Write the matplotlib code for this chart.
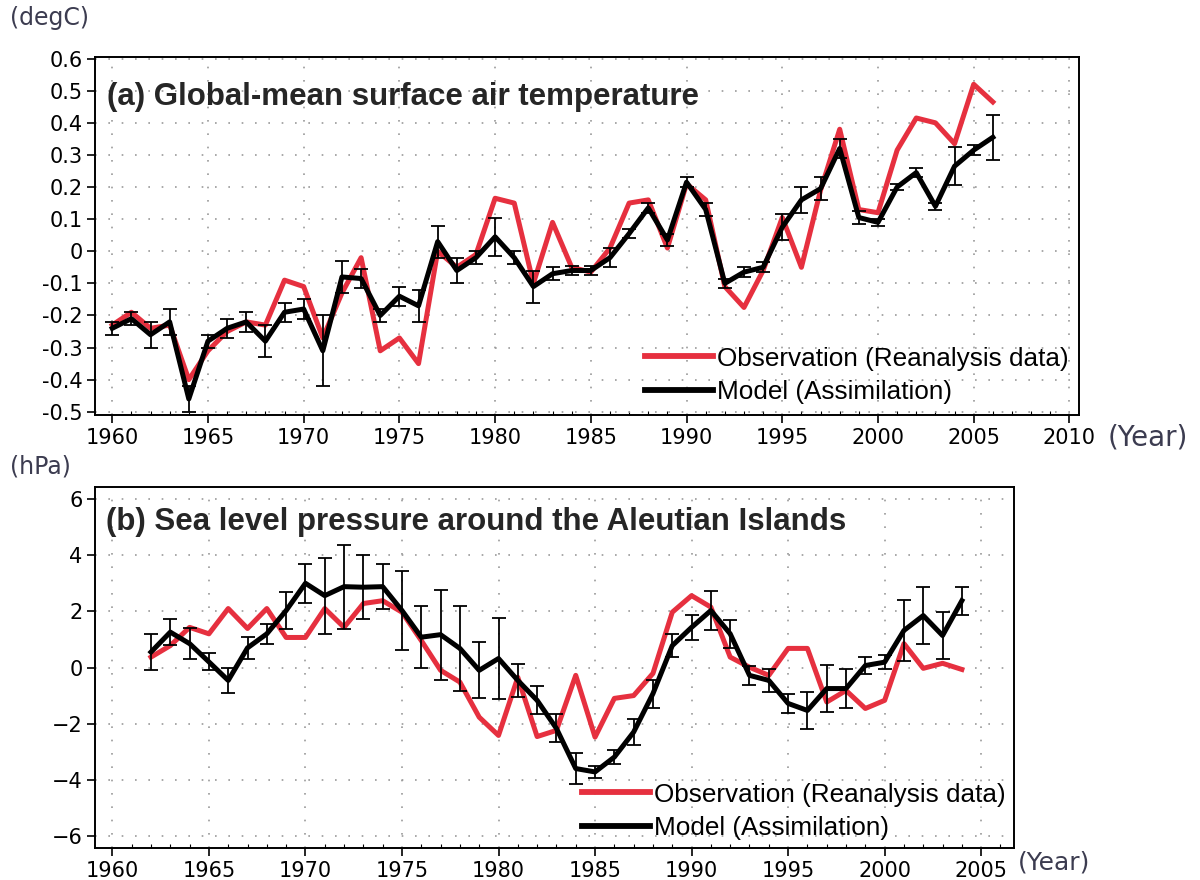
import matplotlib.pyplot as plt
import numpy as np
from matplotlib.lines import Line2D
from matplotlib.ticker import MultipleLocator, FixedLocator

# (a) global-mean surface air temperature anomaly [degC]
years_a = np.arange(1960, 2007)
obs_a = [-0.23, -0.19, -0.24, -0.23, -0.40, -0.31, -0.25, -0.22, -0.23, -0.09,
         -0.11, -0.27, -0.13, -0.02, -0.31, -0.27, -0.35, 0.00, -0.05, -0.01,
         0.165, 0.15, -0.10, 0.09, -0.05, -0.065, 0.01, 0.15, 0.16, 0.01,
         0.21, 0.16, -0.11, -0.175, -0.06, 0.105, -0.05, 0.19, 0.38, 0.13,
         0.12, 0.315, 0.415, 0.40, 0.335, 0.52, 0.465]
model_a = [-0.24, -0.21, -0.26, -0.22, -0.46, -0.28, -0.24, -0.22, -0.28, -0.19,
           -0.18, -0.31, -0.08, -0.085, -0.20, -0.14, -0.17, 0.03, -0.06, -0.02,
           0.045, -0.02, -0.11, -0.07, -0.06, -0.06, -0.02, 0.055, 0.135, 0.035,
           0.215, 0.13, -0.10, -0.065, -0.05, 0.075, 0.16, 0.195, 0.32, 0.105,
           0.09, 0.20, 0.245, 0.14, 0.265, 0.315, 0.355]
err_a = [0.02, 0.02, 0.04, 0.04, 0.04, 0.02, 0.03, 0.03, 0.05, 0.03,
         0.03, 0.11, 0.05, 0.03, 0.02, 0.03, 0.05, 0.05, 0.04, 0.02,
         0.06, 0.02, 0.05, 0.02, 0.015, 0.015, 0.03, 0.015, 0.015, 0.02,
         0.015, 0.02, 0.015, 0.015, 0.015, 0.04, 0.04, 0.035, 0.03, 0.02,
         0.01, 0.01, 0.015, 0.01, 0.06, 0.015, 0.07]

# (b) sea level pressure anomaly around the Aleutian Islands [hPa]
years_b = np.arange(1962, 2005)
obs_b = [0.37, 0.78, 1.43, 1.2, 2.1, 1.39, 2.1, 1.07, 1.07, 2.1,
         1.43, 2.28, 2.38, 1.97, 0.96, -0.1, -0.52, -1.77, -2.42, -0.35,
         -2.46, -2.24, -0.28, -2.48, -1.1, -1.0, -0.21, 1.97, 2.56, 2.15,
         0.37, 0.01, -0.28, 0.68, 0.68, -1.23, -0.82, -1.46, -1.17, 0.85,
         -0.03, 0.15, -0.07]
model_b = [0.55, 1.26, 0.85, 0.2, -0.46, 0.7, 1.2, 2.03, 3.0, 2.56,
           2.88, 2.86, 2.88, 2.03, 1.08, 1.17, 0.68, -0.1, 0.32, -0.46,
           -1.17, -2.17, -3.6, -3.72, -3.19, -2.3, -0.93, 0.78, 1.43, 2.03,
           1.2, -0.28, -0.46, -1.28, -1.53, -0.75, -0.75, 0.07, 0.19, 1.32,
           1.85, 1.14, 2.38]
err_b = [0.64, 0.45, 0.55, 0.3, 0.45, 0.4, 0.35, 0.65, 0.7, 1.35,
         1.5, 1.15, 0.8, 1.4, 1.1, 1.6, 1.5, 1.0, 1.45, 0.6,
         0.5, 0.5, 0.55, 0.2, 0.25, 0.45, 0.5, 0.4, 0.45, 0.7,
         0.5, 0.35, 0.4, 0.35, 0.65, 0.85, 0.7, 0.3, 0.25, 1.1,
         1.0, 0.85, 0.5]

RED = '#e6303f'
LABEL_COLOR = '#3c3c50'
plt.rcParams['font.family'] = 'DejaVu Sans'


def style_axes(ax):
    for sp in ax.spines.values():
        sp.set_linewidth(1.4)
    ax.tick_params(axis='both', which='major', direction='out', length=6, width=1.2,
                   labelsize=15, pad=3)
    ax.xaxis.set_minor_locator(MultipleLocator(1))
    ax.tick_params(axis='x', which='minor', direction='in', length=3, width=0.8, top=False)
    ax.grid(True, which='major', color='#9a9a9a', linestyle=(0, (1, 7)), linewidth=1.2)


def draw(ax, years, obs, model, err, title, title_y):
    ax.plot(years, obs, color=RED, lw=3.6, zorder=3)
    ax.errorbar(years, model, yerr=err, color='k', lw=3.6, elinewidth=1.3,
                capsize=5, capthick=1.3, zorder=4)
    ax.text(0.012, title_y, title, transform=ax.transAxes, ha='left', va='top',
            fontsize=22.5, fontweight='bold', color='#262626',
            family='Liberation Sans', zorder=5)


def add_legend(ax, anchor):
    handles = [Line2D([], [], color=RED, lw=4.2), Line2D([], [], color='k', lw=4.2)]
    labels = ['Observation (Reanalysis data)', 'Model (Assimilation)']
    ax.legend(handles, labels, loc='lower left', bbox_to_anchor=anchor, frameon=False,
              handlelength=2.6, handletextpad=0.15, labelspacing=0.36, borderpad=0.0,
              borderaxespad=0.0, prop={'family': 'Liberation Sans', 'size': 18.8})


fig = plt.figure(figsize=(12, 8.8), dpi=100)

# panel (a)
ax1 = fig.add_axes([95 / 1200, 1 - 415 / 880, 984 / 1200, 358 / 880])
draw(ax1, years_a, obs_a, model_a, err_a, '(a) Global-mean surface air temperature', 0.93)
ax1.set_xlim(1959.1, 2010.5)
ax1.set_ylim(-0.51, 0.605)
ax1.set_xticks(np.arange(1960, 2011, 5))
yt = np.round(np.arange(-0.5, 0.61, 0.1), 1)
ax1.yaxis.set_major_locator(FixedLocator(yt))
ax1.set_yticklabels(['0' if v == 0 else f'{v:.1f}' for v in yt])
style_axes(ax1)
add_legend(ax1, ((645 - 95) / 984, (415 - 404) / 358))

# panel (b)
ax2 = fig.add_axes([95 / 1200, 1 - 848 / 880, 919 / 1200, 361 / 880])
draw(ax2, years_b, obs_b, model_b, err_b, '(b) Sea level pressure around the Aleutian Islands', 0.945)
ax2.set_xlim(1959.1, 2006.7)
ax2.set_ylim(-6.43, 6.43)
ax2.set_xticks(np.arange(1960, 2006, 5))
ax2.set_yticks(np.arange(-6, 7, 2))
style_axes(ax2)
add_legend(ax2, ((582 - 95) / 919, (848 - 840) / 361))

# unit labels
fig.text(10 / 1200, 1 - 18 / 880, '(degC)', fontsize=17, color=LABEL_COLOR, va='center')
fig.text(10 / 1200, 1 - 466 / 880, '(hPa)', fontsize=17, color=LABEL_COLOR, va='center')
fig.text(1108 / 1200, 1 - 437 / 880, '(Year)', fontsize=20, color=LABEL_COLOR, va='center')
fig.text(1018 / 1200, 1 - 862 / 880, '(Year)', fontsize=18, color=LABEL_COLOR, va='center')

fig.savefig('out.png', dpi=100)
